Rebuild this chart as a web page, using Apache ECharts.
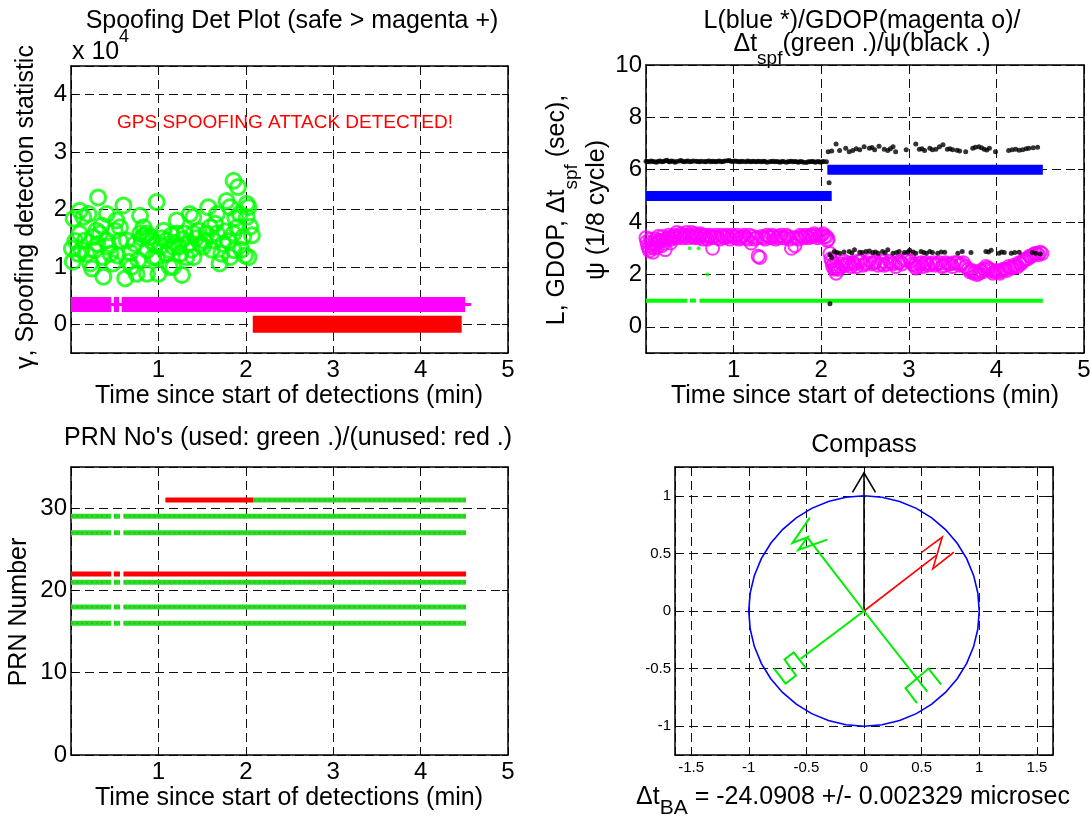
<!DOCTYPE html>
<html>
<head>
<meta charset="utf-8">
<script src="https://cdn.jsdelivr.net/npm/echarts@6/dist/echarts.min.js"></script>
<style>
html, body { margin: 0; padding: 0; background: #fff; }
#chart { width: 1091px; height: 819px; }
</style>
</head>
<body>
<div id="chart"></div>
<script>
// ---------- Panel 1: spoofing detection statistic (values in units of 1e4) ----------
const gammaSpoofed = [
  [0.01,1.32],[0.02,1.09],[0.03,1.84],[0.05,1.45],[0.08,1.23],[0.10,1.98],[0.10,1.58],[0.12,1.30],
  [0.14,1.87],[0.16,1.46],[0.18,1.23],[0.20,1.92],[0.22,1.06],[0.24,0.97],[0.25,1.52],[0.27,1.29],
  [0.29,1.63],[0.30,1.40],[0.31,2.21],[0.33,1.58],[0.35,1.72],[0.37,0.83],[0.37,1.17],[0.41,1.92],
  [0.41,1.46],[0.43,1.35],[0.45,1.23],[0.48,1.06],[0.50,1.63],[0.52,1.81],[0.53,1.20],[0.56,1.46],
  [0.56,1.69],[0.60,2.07],[0.62,0.80],[0.64,1.46],[0.66,1.09],[0.68,1.25],[0.69,1.00],[0.73,1.40],
  [0.75,0.88],[0.77,1.12],[0.79,1.89],[0.79,1.58],[0.81,1.50],[0.83,1.69],[0.84,1.55],[0.87,1.58],
  [0.87,1.29],[0.87,0.88],[0.90,1.52],[0.92,1.45],[0.94,1.17],[0.96,1.38],[0.98,2.13],[0.98,1.17],
  [1.00,0.88],[1.02,1.35],[1.04,1.50],[1.06,1.63],[1.09,1.46],[1.09,1.23],[1.12,1.30],[1.13,1.00],
  [1.15,1.55],[1.17,1.35],[1.17,1.00],[1.19,1.42],[1.21,1.81],[1.21,1.58],[1.23,1.35],[1.25,1.23],
  [1.27,0.86],[1.28,1.48],[1.30,1.58],[1.32,1.17],[1.34,1.40],[1.36,1.92],[1.38,1.30],[1.40,1.87],
  [1.40,1.17],[1.40,1.58],[1.43,1.50],[1.46,1.63],[1.48,1.40],[1.51,1.35],[1.53,1.45],[1.55,1.58],
  [1.57,2.04],[1.59,1.69],[1.61,1.30],[1.63,1.46],[1.65,1.75],[1.67,1.92],[1.67,1.58],[1.70,1.06],
  [1.72,1.23],[1.74,1.40],[1.76,1.62],[1.78,2.15],[1.80,1.45],[1.82,2.04],[1.82,1.17],[1.86,2.50],
  [1.86,1.58],[1.86,1.29],[1.88,1.85],[1.90,1.69],[1.91,2.39],[1.93,1.92],[1.95,1.30],[1.97,1.52],
  [1.99,1.20],[2.01,2.10],[2.01,1.87],[2.03,2.04],[2.03,1.17],[2.05,1.70],[2.07,1.55]
];
const safeThreshold = 0.343;                       // magenta "+" level
const safeSegments = [[0.0, 0.46], [0.49, 0.55], [0.58, 4.51]];
const safeTail = [0.0, 4.58];
const spoofFreeLevel = 0.0;                        // red "*" level after the switch
const spoofFreeSegment = [2.08, 4.47];

// ---------- Panel 2: L / GDOP / dt_spf / psi ----------
const lSegments = [[0.0, 2.12, 5], [2.07, 4.53, 6]];
const gdop = [
  [0.00,3.40],[0.02,3.10],[0.04,2.90],[0.06,3.20],[0.08,2.85],[0.10,3.00],[0.12,3.20],[0.15,3.30],
  [0.18,3.10],[0.20,3.30],[0.22,2.95],[0.25,3.40],[0.28,3.20],[0.30,3.45],[0.33,3.50],[0.36,3.40],
  [0.40,3.55],[0.43,3.50],[0.46,3.60],[0.50,3.50],[0.53,3.45],[0.56,3.55],[0.60,3.40],[0.63,3.50],
  [0.66,3.45],[0.70,3.35],[0.73,3.50],[0.76,3.00],[0.78,3.45],[0.82,3.40],[0.86,3.50],[0.90,3.40],
  [0.94,3.45],[0.98,3.50],[1.02,3.40],[1.06,3.35],[1.10,3.45],[1.14,3.40],[1.18,3.50],[1.20,3.20],
  [1.24,3.35],[1.28,2.70],[1.30,2.65],[1.34,3.40],[1.38,3.50],[1.42,3.40],[1.46,3.45],[1.50,3.40],
  [1.54,3.50],[1.58,3.40],[1.62,3.45],[1.66,3.00],[1.70,3.10],[1.72,3.40],[1.76,3.50],[1.80,3.40],
  [1.84,3.45],[1.88,3.50],[1.92,3.55],[1.96,3.40],[2.00,3.50],[2.04,3.45],[2.07,3.30],[2.10,2.80],
  [2.12,2.50],[2.13,2.30],[2.15,2.20],[2.17,2.05],[2.20,2.20],[2.24,2.40],[2.28,2.35],[2.32,2.40],
  [2.36,2.45],[2.40,2.30],[2.45,2.50],[2.50,2.40],[2.55,2.55],[2.60,2.45],[2.65,2.35],[2.70,2.50],
  [2.75,2.40],[2.80,2.45],[2.85,2.30],[2.90,2.50],[2.95,2.55],[3.00,2.65],[3.04,2.40],[3.08,2.25],
  [3.12,2.40],[3.16,2.30],[3.20,2.45],[3.25,2.40],[3.30,2.35],[3.35,2.45],[3.40,2.35],[3.45,2.40],
  [3.50,2.30],[3.55,2.45],[3.60,2.40],[3.65,2.30],[3.70,2.10],[3.74,2.05],[3.78,2.00],[3.82,2.15],
  [3.86,2.20],[3.90,2.25],[3.94,2.15],[3.98,2.10],[4.02,2.10],[4.06,2.15],[4.10,2.20],[4.14,2.30],
  [4.18,2.25],[4.22,2.30],[4.26,2.45],[4.30,2.50],[4.34,2.60],[4.38,2.70],[4.42,2.75],[4.46,2.80],
  [4.50,2.85],[4.52,2.80],
  [0.01,3.25],[0.03,3.00],[0.05,3.35],[0.07,3.05],[0.09,3.15],[0.11,3.35],[0.13,3.05],[0.14,3.45],
  [0.17,3.30],[0.19,3.45],[0.21,3.20],[0.23,3.35],[0.26,3.50],[0.29,3.35],[0.32,3.40],[0.35,3.60],
  [0.38,3.45],[0.42,3.40],[0.45,3.45],[0.48,3.40],[0.52,3.60],[0.55,3.40],[0.58,3.50],[0.62,3.55],
  [0.65,3.35],[0.68,3.50],[0.72,3.45],[0.75,3.40],[0.80,3.50],[0.84,3.35],[0.88,3.45],[0.92,3.50],
  [0.96,3.35],[1.00,3.45],[1.04,3.50],[1.08,3.40],[1.12,3.50],[1.16,3.35],[1.22,3.45],[1.26,3.40],
  [1.32,3.45],[1.36,3.35],[1.40,3.45],[1.44,3.50],[1.48,3.35],[1.52,3.45],[1.56,3.40],[1.60,3.50],
  [1.64,3.35],[1.68,3.40],[1.74,3.35],[1.78,3.45],[1.82,3.50],[1.86,3.40],[1.90,3.45],[1.94,3.50],
  [1.98,3.45],[2.02,3.55],[2.06,3.45],[2.08,3.35],
  [2.11,2.60],[2.14,2.40],[2.16,2.30],[2.18,2.25],[2.22,2.30],[2.26,2.50],[2.30,2.45],[2.34,2.30],
  [2.38,2.40],[2.42,2.50],[2.48,2.35],[2.52,2.45],[2.58,2.40],[2.62,2.50],[2.68,2.40],[2.72,2.35],
  [2.78,2.50],[2.82,2.40],[2.88,2.45],[2.92,2.40],[2.98,2.55],[3.02,2.50],[3.06,2.35],[3.10,2.30],
  [3.14,2.45],[3.18,2.40],[3.22,2.35],[3.28,2.45],[3.32,2.40],[3.38,2.30],[3.42,2.45],[3.48,2.40],
  [3.52,2.45],[3.58,2.35],[3.62,2.45],[3.68,2.20],[3.72,2.15],[3.76,2.10],[3.80,2.05],[3.84,2.10],
  [3.88,2.30],[3.92,2.20],[3.96,2.05],[4.00,2.15],[4.04,2.05],[4.08,2.20],[4.12,2.15],[4.16,2.25],
  [4.20,2.35],[4.24,2.30],[4.28,2.40],[4.32,2.55],[4.36,2.60],[4.40,2.70],[4.44,2.80],[4.48,2.75]
];
const dtSpfLevel = 1;
const dtSpfSegments = [[0.0, 0.47], [0.50, 0.57], [0.61, 4.53]];
const dtSpfOutliers = [[0.50, 3.0], [0.60, 3.0], [0.70, 2.0]];
const psiBefore = [
  [0.00,6.32],[0.02,6.31],[0.04,6.30],[0.06,6.33],[0.08,6.31],[0.10,6.30],[0.12,6.29],[0.14,6.32],
  [0.16,6.33],[0.18,6.30],[0.20,6.31],[0.22,6.34],[0.24,6.36],[0.26,6.31],[0.27,6.30],[0.29,6.33],
  [0.31,6.32],[0.33,6.29],[0.35,6.31],[0.38,6.33],[0.40,6.35],[0.42,6.31],[0.44,6.30],[0.46,6.32],
  [0.48,6.33],[0.50,6.30],[0.52,6.31],[0.54,6.33],[0.57,6.32],[0.59,6.31],[0.61,6.30],[0.63,6.32],
  [0.66,6.31],[0.68,6.30],[0.70,6.32],[0.72,6.33],[0.74,6.30],[0.76,6.32],[0.78,6.31],[0.80,6.30],
  [0.82,6.32],[0.84,6.33],[0.86,6.30],[0.88,6.31],[0.90,6.33],[0.93,6.34],[0.95,6.35],[0.97,6.32],
  [0.99,6.31],[1.01,6.33],[1.03,6.32],[1.05,6.31],[1.07,6.30],[1.09,6.32],[1.11,6.31],[1.14,6.30],
  [1.16,6.33],[1.18,6.31],[1.20,6.30],[1.22,6.32],[1.24,6.31],[1.26,6.30],[1.28,6.32],[1.30,6.31],
  [1.32,6.30],[1.34,6.32],[1.36,6.31],[1.38,6.29],[1.41,6.30],[1.43,6.31],[1.45,6.32],[1.47,6.30],
  [1.49,6.31],[1.51,6.30],[1.53,6.29],[1.55,6.31],[1.57,6.31],[1.60,6.29],[1.62,6.30],[1.64,6.31],
  [1.66,6.32],[1.68,6.30],[1.70,6.31],[1.72,6.30],[1.74,6.29],[1.76,6.31],[1.78,6.30],[1.80,6.29],
  [1.83,6.28],[1.85,6.30],[1.87,6.30],[1.89,6.31],[1.91,6.31],[1.93,6.29],[1.95,6.30],[1.97,6.31],
  [1.99,6.29],[2.01,6.30],[2.03,6.31],[2.06,6.30]
];
const psiAfterHigh = [
  [2.08,6.69],[2.17,6.98],[2.21,6.73],[2.28,6.82],[2.32,6.69],[2.36,6.73],[2.44,6.76],[2.49,6.88],
  [2.55,6.82],[2.61,6.76],[2.66,6.90],[2.72,6.78],[2.76,6.73],[2.82,6.88],[2.85,6.69],[2.97,6.76],
  [3.08,6.98],[3.12,6.78],[3.18,6.73],[3.24,6.82],[3.27,6.76],[3.35,6.88],[3.39,6.95],[3.44,6.78],
  [3.50,6.76],[3.58,6.72],[3.65,6.69],[3.73,6.82],[3.80,6.88],[3.86,6.78],[3.92,6.82],[3.99,6.69],
  [4.14,6.73],[4.22,6.78],[4.30,6.76],[4.37,6.82],[4.47,6.86],
  [2.12,6.72],[2.40,6.80],[2.58,6.85],[2.79,6.80],[3.15,6.80],[3.31,6.78],[3.47,6.80],[3.55,6.74],
  [3.76,6.86],[3.83,6.84],[3.89,6.75],[4.18,6.76],[4.26,6.74],[4.34,6.80],[4.42,6.84]
];
const psiAfterLow = [
  [2.10,2.75],[2.15,2.88],[2.21,2.81],[2.32,2.88],[2.38,2.94],[2.44,2.85],[2.51,2.88],[2.59,2.84],
  [2.65,2.81],[2.70,2.88],[2.76,2.94],[2.82,2.81],[2.89,2.88],[2.95,2.84],[3.01,2.92],[3.08,2.81],
  [3.14,2.88],[3.20,2.81],[3.27,2.84],[3.33,2.81],[3.41,2.85],[3.56,2.81],[3.61,2.88],[3.71,2.84],
  [3.88,2.88],[3.94,2.92],[4.03,2.81],[4.09,2.84],[4.17,2.81],[4.26,2.85],[4.45,2.81],[4.50,2.78],
  [2.12,2.65],[2.18,2.84],[2.26,2.86],[2.35,2.82],[2.47,2.84],[2.55,2.90],[2.62,2.86],[2.73,2.83],
  [2.86,2.84],[2.99,2.86],[3.05,2.86],[3.17,2.84],[3.24,2.88],[3.37,2.86],[3.91,2.86],[4.06,2.86],
  [4.21,2.84],[4.41,2.84]
];
const psiOutliers = [[2.09, 5.5], [2.10, 0.88]];

// ---------- Panel 3: PRN tracking ----------
const prnUsed = [16, 18, 21, 27, 29];
const prnUnused = [22];
const prnTrackSegments = [[0.0, 0.46], [0.49, 0.56], [0.60, 4.52]];
const prn31 = 31;
const prn31Unused = [1.08, 2.09];
const prn31Used = [2.09, 4.52];

// ---------- Panel 4: compass ----------
const ringRadius = 1;
const ringSteps = 40;
const northShaft = [[0, 0], [0, 1.2]];
const northHead = [[-0.10, 1.03], [0, 1.2], [0.10, 1.03]];
const redShaft = [[0, 0], [0.632, 0.487]];
const redGlyphN = [[0.497, 0.507], [0.679, 0.642], [0.597, 0.366], [0.779, 0.51]];
const greenShaftW = [[0, 0], [-0.49, 0.637]];
const greenGlyphW = [[-0.47, 0.81], [-0.62, 0.59], [-0.49, 0.64], [-0.57, 0.53], [-0.32, 0.62]];
const greenShaftS = [[0, 0], [-0.55, -0.415]];
const greenGlyphS = [[-0.50, -0.50], [-0.61, -0.36], [-0.69, -0.42], [-0.59, -0.56], [-0.68, -0.63], [-0.78, -0.50]];
const greenShaftE = [[0, 0], [0.549, -0.70]];
const greenGlyphE = [[0.46, -0.80], [0.36, -0.67], [0.56, -0.50], [0.67, -0.64]];

// ---------- layout / styling ----------
const FONT = '"Liberation Sans", Arial, Helvetica, sans-serif';
const TXT = 25;
const grids = [
  { left: 71,  top: 66,  width: 437, height: 287 },
  { left: 646, top: 65,  width: 438, height: 288 },
  { left: 71,  top: 467, width: 437, height: 288 },
  { left: 675, top: 467, width: 378, height: 288 }
];
const axisRanges = [
  { x: [0, 5, 1], y: [-0.5, 4.5, 1], xl: [false, true], yl: [false, false], fs: 24 },
  { x: [0, 5, 1], y: [-1, 10, 2], xl: [false, true], yl: [false, true], fs: 24 },
  { x: [0, 5, 1], y: [0, 35, 10], xl: [false, true], yl: [true, false], fs: 24 },
  { x: [-1.64, 1.64, 0.5], y: [-1.25, 1.25, 0.5], xl: [false, false], yl: [false, false], fs: 15 }
];

const xAxes = [], yAxes = [];
axisRanges.forEach((r, g) => {
  const lineStyle = { color: '#000', width: 1.5 };
  const tick = { show: true, inside: true, length: 6, lineStyle: { color: '#000', width: 1 } };
  const split = { show: true, lineStyle: { color: '#111', width: 1, type: [9, 5] } };
  const mk = (pos, rr, labels, main) => ({
    type: 'value', gridIndex: g, position: pos,
    min: rr[0], max: rr[1], minInterval: rr[2], maxInterval: rr[2],
    axisLine: { show: true, onZero: false, lineStyle },
    axisTick: tick,
    axisLabel: main ? {
      show: true, color: '#000', fontSize: r.fs, fontFamily: FONT,
      margin: (pos === 'bottom') ? 5 : 4,
      showMinLabel: labels[0], showMaxLabel: labels[1], hideOverlap: false
    } : { show: false },
    splitLine: main ? split : { show: false }
  });
  xAxes.push(mk('bottom', r.x, r.xl, true), mk('top', r.x, r.xl, false));
  yAxes.push(mk('left', r.y, r.yl, true), mk('right', r.y, r.yl, false));
});

const series = [];
function lineSeries(g, data, color, width, z, extra) {
  series.push(Object.assign({
    type: 'line', xAxisIndex: 2 * g, yAxisIndex: 2 * g, data,
    symbol: 'none', showSymbol: false, silent: true, animation: false, z: z || 2,
    lineStyle: { color, width, cap: 'butt', join: 'miter' }
  }, extra || {}));
}
function scatterSeries(g, data, symbolSize, itemStyle, z) {
  series.push({
    type: 'scatter', xAxisIndex: 2 * g, yAxisIndex: 2 * g, data,
    symbol: 'circle', symbolSize, itemStyle, silent: true, animation: false, z: z || 3
  });
}

// Panel 1
lineSeries(0, [[safeTail[0], safeThreshold], [safeTail[1], safeThreshold]], '#ff00ff', 3, 2);
safeSegments.forEach(s => lineSeries(0, [[s[0], safeThreshold], [s[1], safeThreshold]], '#ff00ff', 15, 2));
lineSeries(0, [[spoofFreeSegment[0], spoofFreeLevel], [spoofFreeSegment[1], spoofFreeLevel]], '#ff0000', 17, 2);
scatterSeries(0, gammaSpoofed, 15, { color: 'rgba(0,0,0,0)', borderColor: '#00ff00', borderWidth: 3 }, 4);

// Panel 2
lSegments.forEach(s => lineSeries(1, [[s[0], s[2]], [s[1], s[2]]], '#0000ff', 10, 2));
scatterSeries(1, gdop, 13, { color: 'rgba(0,0,0,0)', borderColor: '#ff00ff', borderWidth: 2 }, 3);
dtSpfSegments.forEach(s => lineSeries(1, [[s[0], dtSpfLevel], [s[1], dtSpfLevel]], '#00ff00', 4, 3));
scatterSeries(1, dtSpfOutliers, 4, { color: '#00ff00' }, 4);
scatterSeries(1, psiBefore, 5, { color: '#000' }, 5);
scatterSeries(1, psiAfterHigh, 5, { color: '#000' }, 5);
scatterSeries(1, psiAfterLow, 5, { color: '#000' }, 5);
scatterSeries(1, psiOutliers, 5, { color: '#000' }, 5);

// Panel 3
function prnTrack(prn, segs, color) {
  segs.forEach(s => {
    lineSeries(2, [[s[0], prn], [s[1], prn]], color, 5, 2);
    if (color !== '#ff0000') {
      lineSeries(2, [[s[0], prn], [s[1], prn]], 'rgba(110,140,40,0.75)', 1.5, 3,
        { lineStyle: { color: 'rgba(110,140,40,0.75)', width: 1.5, type: [2, 3] } });
    }
  });
}
prnUsed.forEach(p => prnTrack(p, prnTrackSegments, '#22e022'));
prnUnused.forEach(p => prnTrack(p, prnTrackSegments, '#ff0000'));
prnTrack(prn31, [prn31Unused], '#ff0000');
prnTrack(prn31, [prn31Used], '#22e022');

// Panel 4
const ring = [];
for (let i = 0; i <= ringSteps; i++) {
  const a = 2 * Math.PI * i / ringSteps;
  ring.push([ringRadius * Math.cos(a), ringRadius * Math.sin(a)]);
}
lineSeries(3, ring, '#0000ff', 1.6, 3);
lineSeries(3, northShaft, '#000', 1.6, 4);
lineSeries(3, northHead, '#000', 1.6, 4);
lineSeries(3, redShaft, '#ff0000', 1.6, 4);
lineSeries(3, redGlyphN, '#ff0000', 1.6, 4);
[greenShaftW, greenGlyphW, greenShaftS, greenGlyphS, greenShaftE, greenGlyphE]
  .forEach(d => lineSeries(3, d, '#00ee00', 2, 4));

// ---------- text ----------
function txt(x, y, text, opts) {
  return Object.assign({
    type: 'text', x, y, silent: true, z: 10,
    style: Object.assign({
      text, fill: '#000', fontSize: TXT, fontFamily: FONT, align: 'center', verticalAlign: 'middle'
    }, (opts && opts.style) || {})
  }, (opts && opts.el) || {});
}
const richBase = { m: { fontSize: TXT, fontFamily: FONT, fill: '#000' } };
function richSub(size, drop) {
  return Object.assign({}, richBase, { s: { fontSize: size, fontFamily: FONT, fill: '#000', padding: [drop, 0, 0, 0] } });
}

const graphics = [
  // panel 1
  txt(292, 21, 'Spoofing Det Plot (safe > magenta +)'),
  txt(72, 52, 'x 10', { style: { align: 'left' } }),
  txt(119, 37, '4', { style: { align: 'left', fontSize: 18 } }),
  txt(285, 123, 'GPS SPOOFING ATTACK DETECTED!', { style: { fill: '#ff0000', fontSize: 19 } }),
  txt(26, 207, 'γ, Spoofing detection statistic', { el: { rotation: Math.PI / 2 } }),
  txt(289, 396, 'Time since start of detections (min)'),
  // panel 2
  txt(862, 21, 'L(blue *)/GDOP(magenta o)/'),
  txt(862, 44, '{m|Δt}{s|spf}{m|(green .)/ψ(black .)}', { style: { rich: richSub(19, 30) } }),
  txt(557, 210, '{m|L, GDOP, Δt}{s|spf}{m| (sec),}', { style: { rich: richSub(19, 30) }, el: { rotation: Math.PI / 2 } }),
  txt(597, 210, 'ψ (1/8 cycle)', { el: { rotation: Math.PI / 2 } }),
  txt(865, 396, 'Time since start of detections (min)'),
  // panel 3
  txt(288, 438, "PRN No's (used: green .)/(unused: red .)"),
  txt(19, 612, 'PRN Number', { el: { rotation: Math.PI / 2 } }),
  txt(289, 798, 'Time since start of detections (min)'),
  // panel 4
  txt(864, 445, 'Compass'),
  txt(853, 797, '{m|Δt}{s|BA}{m| = -24.0908 +/- 0.002329 microsec}', { style: { rich: richSub(21, 22) } })
];

const chart = echarts.init(document.getElementById('chart'), null, { renderer: 'canvas' });
chart.setOption({
  backgroundColor: '#fff',
  animation: false,
  grid: grids.map(g => Object.assign({ containLabel: false, outerBoundsMode: 'none' }, g)),
  xAxis: xAxes,
  yAxis: yAxes,
  series,
  graphic: graphics
});
</script>
</body>
</html>
